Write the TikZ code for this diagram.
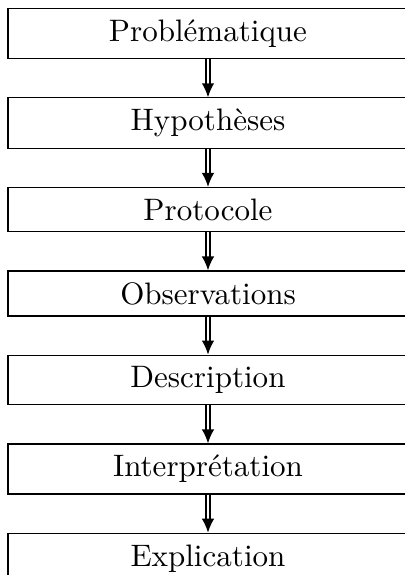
\documentclass[tikz,border=0pt]{standalone}
\usepackage{graphicx}
\usetikzlibrary{positioning,arrows.meta}
\newcommand{\stagetext}[1]{\scalebox{1.552}{#1}}
\tikzset{
  stagebox/.style={draw=black, line width=0.6pt, minimum width=200pt, inner xsep=4pt, inner ysep=5.6pt,
    font=\fontsize{10}{12}\selectfont, anchor=north},
  flowarrow/.style={double, double distance=1.3pt, line width=0.8pt,
    -{Latex[length=7pt,width=6.3pt]}}
}
\begin{document}
\begin{tikzpicture}
\useasboundingbox (0,0) rectangle (202.5pt,-287.5pt);
\node[stagebox] (n1) at (104pt,-4pt) {\stagetext{Problématique}};
\node[stagebox, below=19pt of n1] (n2) {\stagetext{Hypothèses}};
\node[stagebox, below=19pt of n2] (n3) {\stagetext{Protocole}};
\node[stagebox, below=19pt of n3] (n4) {\stagetext{Observations}};
\node[stagebox, below=19pt of n4] (n5) {\stagetext{Description}};
\node[stagebox, below=19pt of n5] (n6) {\stagetext{Interprétation}};
\node[stagebox, below=19pt of n6] (n7) {\stagetext{Explication}};
\draw[flowarrow] (n1) -- (n2);
\draw[flowarrow] (n2) -- (n3);
\draw[flowarrow] (n3) -- (n4);
\draw[flowarrow] (n4) -- (n5);
\draw[flowarrow] (n5) -- (n6);
\draw[flowarrow] (n6) -- (n7);
\end{tikzpicture}
\end{document}
